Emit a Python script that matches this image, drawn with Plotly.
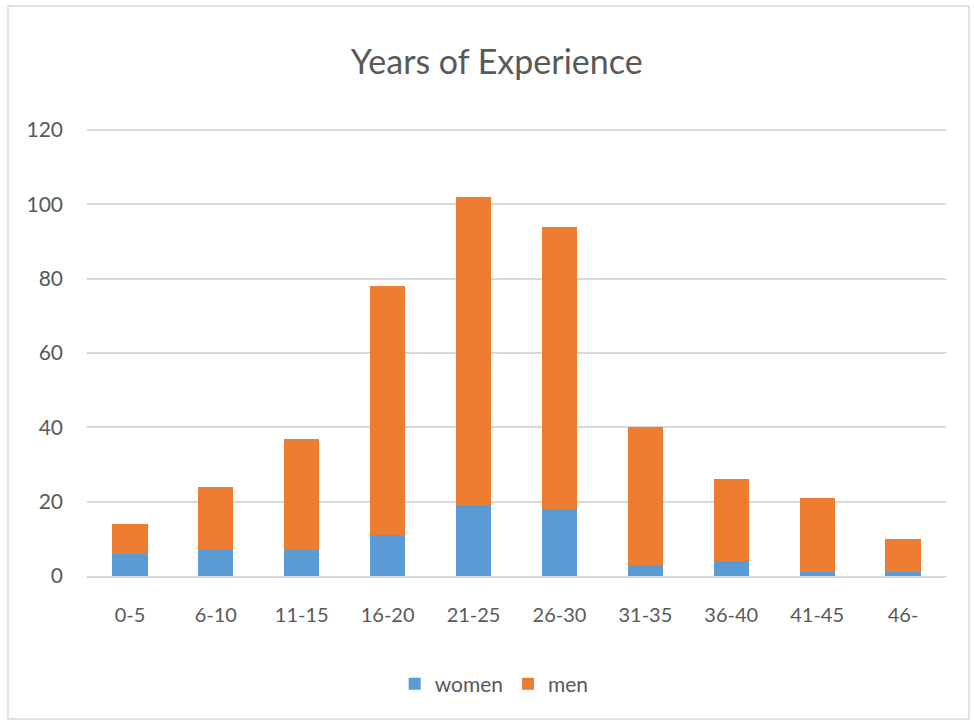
import plotly.graph_objects as go

categories = ["0-5", "6-10", "11-15", "16-20", "21-25", "26-30", "31-35", "36-40", "41-45", "46-"]
women = [6, 7, 7, 11, 19, 18, 3, 4, 1, 1]
men = [8, 17, 30, 67, 83, 76, 37, 22, 20, 9]
y_ticks = [0, 20, 40, 60, 80, 100, 120]

FONT = "Lato, sans-serif"
TXT = "#595959"

fig = go.Figure()
fig.add_trace(go.Bar(name="women", x=categories, y=women, marker=dict(color="#5B9BD5", line=dict(width=0))))
fig.add_trace(go.Bar(name="men", x=categories, y=men, marker=dict(color="#ED7D31", line=dict(width=0))))

L, R, T, B = 87, 946, 129, 576
W, H = 974, 725
pw, ph = R - L, B - T

def px_x(p):
    return (p - L) / pw

def px_y(p):
    return (B - p) / ph

fig.update_layout(
    width=W, height=H,
    margin=dict(l=L, r=W - R, t=T, b=H - B, pad=0),
    barmode="stack",
    bargap=0.59,
    plot_bgcolor="white",
    paper_bgcolor="white",
    font=dict(family=FONT, size=18, color=TXT),
    title=dict(text="Years of Experience", x=0.51, xanchor="center", y=1 - 62 / H, yanchor="middle",
               font=dict(family=FONT, size=34, color=TXT)),
    legend=dict(orientation="h", x=0.474, xanchor="center", y=px_y(684), yanchor="middle",
                font=dict(family=FONT, size=21, color=TXT), itemwidth=30, traceorder="normal"),
    xaxis=dict(showgrid=False, showline=True, linecolor="#D9D9D9", linewidth=1.5,
               ticks="", ticklabelstandoff=20, tickfont=dict(size=20, color=TXT)),
    yaxis=dict(range=[0, 120.3], tickvals=y_ticks, showgrid=True, gridcolor="#D9D9D9", gridwidth=1.5,
               zeroline=False, showline=False, ticks="", ticklabelstandoff=23,
               tickfont=dict(size=21, color=TXT)),
    shapes=[dict(type="rect", xref="paper", yref="paper",
                 x0=px_x(8), x1=px_x(969), y0=px_y(719), y1=px_y(6),
                 line=dict(color="#D9D9D9", width=1.5), layer="below")],
)

fig.write_html("out.html")
